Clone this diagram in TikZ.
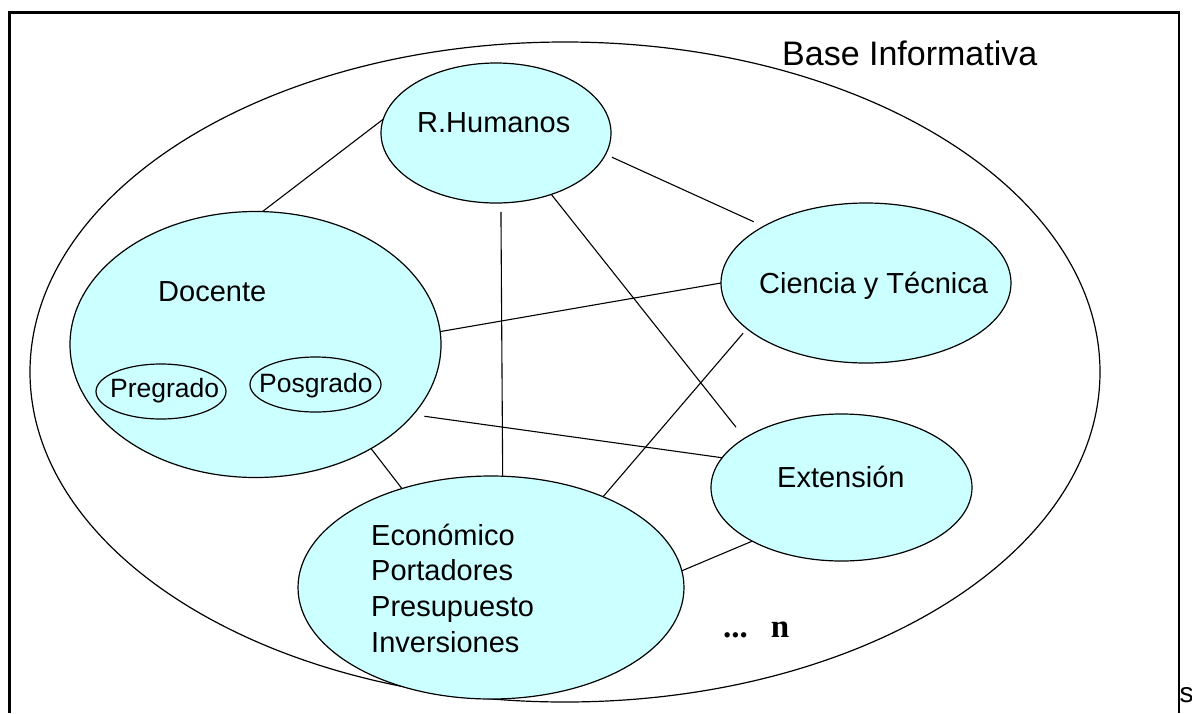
\documentclass[tikz,border=0pt]{standalone}
\usepackage{fontspec}
\setmainfont{Liberation Sans}
\newfontfamily\serifbold{Liberation Serif}
\usetikzlibrary{shapes.geometric,backgrounds}
\definecolor{lcyan}{HTML}{CCFFFF}
\begin{document}
\begin{tikzpicture}[x=1pt,y=-1pt,
  bubble/.style={ellipse,draw,fill=lcyan,line width=1.2pt,inner sep=0pt,outer sep=0pt},
  conn/.style={line width=1.1pt},
  lbl/.style={anchor=base west,inner sep=0pt,font=\fontsize{29}{35}\selectfont},
  sublbl/.style={lbl,font=\fontsize{26.5}{32}\selectfont}]
\useasboundingbox (0,0) rectangle (1192,713);
\begin{scope}[on background layer]
  \fill[white] (0,0) rectangle (1192,713);
\end{scope}
% frame
\draw[line width=2.2pt] (9.5,713) -- (9.5,12.5) -- (1179,12.5) -- (1179,713);
% big ellipse
\node[ellipse,draw,line width=1.2pt,inner sep=0pt,minimum width=1070pt,minimum height=660pt] (base) at (565,372) {};
% bubbles
\node[bubble,minimum width=230pt,minimum height=140pt] (hum) at (496,133) {};
\node[bubble,minimum width=371pt,minimum height=266pt] (doc) at (255.5,344.5) {};
\node[bubble,minimum width=130pt,minimum height=55pt] (preg) at (161,391.5) {};
\node[bubble,minimum width=131pt,minimum height=55pt] (posg) at (315.5,384.5) {};
\node[bubble,minimum width=290pt,minimum height=160pt] (cie) at (866,283) {};
\node[bubble,minimum width=261pt,minimum height=147pt] (ext) at (841.5,487.5) {};
\node[bubble,minimum width=386pt,minimum height=223pt] (eco) at (491,587.5) {};
% connectors
\begin{scope}[on background layer]
  \draw[conn] (doc.87) -- (hum.173.5);
  \draw[conn,shorten <=7pt,shorten >=11pt] (hum.-11.8) -- (cie.151.85);
  \draw[conn,shorten <=9pt] (hum.-86.4) -- (eco.84.4);
  \draw[conn,shorten >=14pt] (hum.-48) -- (ext.153.1);
  \draw[conn] (doc.4.2) -- (cie.180.8);
  \draw[conn,shorten <=11.5pt] (doc.-24.5) -- (ext.166.8);
  \draw[conn] (doc.-42.7) -- (eco.132.6);
  \draw[conn,shorten >=6pt] (eco.39.7) -- (cie.201.2);
  \draw[conn] (eco.5) -- (ext.211.8);
\end{scope}
% texts
\node[lbl,font=\fontsize{34}{40}\selectfont] (tbase) at (782,65) {Base Informativa};
\node[lbl] (thum) at (417,132) {R.Humanos};
\node[lbl] (tdoc) at (158,301) {Docente};
\node[sublbl] (tpreg) at (110,397) {Pregrado};
\node[sublbl] (tposg) at (259,392) {Posgrado};
\node[lbl] (tcie) at (759,293) {Ciencia y Técnica};
\node[lbl] (text) at (777,487) {Extensión};
\node[lbl] (teco1) at (371,545) {Económico};
\node[lbl] (teco2) at (371,580) {Portadores};
\node[lbl] (teco3) at (371,616) {Presupuesto};
\node[lbl] (teco4) at (371,652) {Inversiones};
\node[lbl,font=\serifbold\bfseries\fontsize{33}{40}\selectfont] (tn) at (723,637) {...\hspace{23pt}n};
\node[lbl,font=\fontsize{28}{34}\selectfont] (ts) at (1179.5,702) {s};
\end{tikzpicture}
\end{document}
